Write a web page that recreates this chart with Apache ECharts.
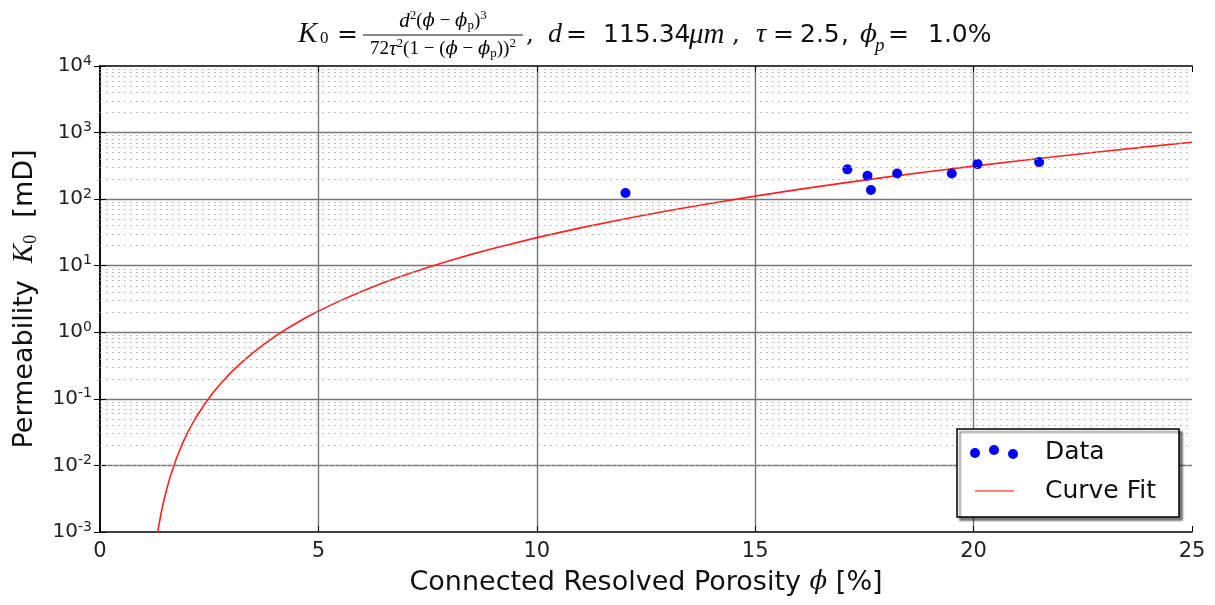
<!DOCTYPE html>
<html>
<head>
<meta charset="utf-8">
<script src="https://cdn.jsdelivr.net/npm/echarts@6/dist/echarts.min.js"></script>
<style>
html, body { margin: 0; padding: 0; background: #fff; }
#chart { width: 1215px; height: 605px; }
</style>
</head>
<body>
<div id="chart"></div>
<script>
// measured points
var porosity = [12.03, 17.11, 17.57, 17.65, 18.25, 19.50, 20.09, 21.50];
var permeability = [124, 280, 224, 137, 243, 243, 336, 360];

// fitted curve
var fitPorosity = [1.3, 1.35, 1.4, 1.45, 1.5, 1.6, 1.75, 1.9, 2, 2.1, 2.2, 2.4, 2.6, 2.75, 3,
    3.25, 3.5, 3.75, 4, 4.25, 4.5, 4.75, 5, 5.5, 6, 6.5, 7, 7.5, 8, 8.5, 9, 10,
    11, 12, 13, 14, 15, 16, 17, 18, 19, 20, 21, 22, 23, 24, 25];
var fitPermeability = [0.000814, 0.00129, 0.00193, 0.00275, 0.00378, 0.00655, 0.0128, 0.0222,
    0.0306, 0.0408, 0.0530, 0.0846, 0.127, 0.166, 0.250, 0.357, 0.492, 0.659, 0.860, 1.10,
    1.38, 1.71, 2.08, 2.99, 4.15, 5.58, 7.32, 9.41, 11.9, 14.8, 18.1, 26.4,
    37.0, 50.3, 66.8, 86.9, 111, 140, 174, 214, 260, 313, 374, 445, 524, 615, 717];

// decades of the log axis (minor lines at 2..9 x 10^k)
var decades = [-3, -2, -1, 0, 1, 2, 3];
var minorSteps = [2, 3, 4, 5, 6, 7, 8, 9];

var sans = '"DejaVu Sans", sans-serif';
var serif = '"Liberation Serif", "DejaVu Serif", serif';
var dserif = '"DejaVu Serif", serif';

var toPairs = function (xs, ys) {
    var out = [];
    for (var i = 0; i < xs.length; i++) {
        out.push([xs[i], ys[i]]);
    }
    return out;
};

var minorLines = [];
for (var d = 0; d < decades.length; d++) {
    for (var m = 0; m < minorSteps.length; m++) {
        minorLines.push({ yAxis: minorSteps[m] * Math.pow(10, decades[d]) });
    }
}

var mathRich = function (size) {
    var small = Math.round(size * 0.68);
    return {
        n: { fontFamily: sans, fontSize: size, color: '#111', lineHeight: size + 4 },
        r: { fontFamily: serif, fontSize: size, color: '#111', lineHeight: size + 4 },
        i: { fontFamily: serif, fontStyle: 'italic', fontSize: size + 2, color: '#111', lineHeight: size + 4 },
        f: { fontFamily: dserif, fontStyle: 'italic', fontSize: size - 1, color: '#111', lineHeight: size + 4 },
        sp: { fontFamily: serif, fontSize: small, color: '#111', lineHeight: small, verticalAlign: 'top' },
        sb: { fontFamily: serif, fontSize: small, color: '#111', lineHeight: small, verticalAlign: 'bottom' }
    };
};

// title pieces: text, left x, style
var titleParts = [
    [',', 526, 'e'], ['d', 548, 'i'], ['=', 566, 'e'], ['115.34', 603, 'n'], ['μm', 689, 'm'],
    [',', 732, 'e'], ['τ', 756, 'i'], ['=', 773, 'e'], ['2.5', 800, 'n'], [',', 841, 'n'],
    ['ϕ', 860, 'f'], ['=', 888, 'e'], ['1.0%', 928, 'n']
];
var titleFonts = {
    e: { fontFamily: dserif, fontSize: 25 },
    i: { fontFamily: serif, fontStyle: 'italic', fontSize: 28 },
    m: { fontFamily: serif, fontStyle: 'italic', fontSize: 29 },
    n: { fontFamily: sans, fontSize: 25 },
    f: { fontFamily: dserif, fontStyle: 'italic', fontSize: 25 }
};

var graphics = [
    { type: 'text', x: 298, y: 34, style: { text: 'K', fontFamily: serif, fontStyle: 'italic',
        fontSize: 29, fill: '#111', verticalAlign: 'middle' } },
    { type: 'text', x: 320, y: 39, style: { text: '0', fontFamily: serif,
        fontSize: 17, fill: '#111', verticalAlign: 'middle' } },
    { type: 'text', x: 337, y: 35, style: { text: '=', fontFamily: dserif,
        fontSize: 25, fill: '#111', verticalAlign: 'middle' } },
    { type: 'text', x: 443, y: 21, style: {
        text: '{i|d}{sp|2}{r|(}{f|ϕ}{r| − }{f|ϕ}{sb|p}{r|)}{sp|3}',
        rich: mathRich(19), align: 'center', verticalAlign: 'middle' } },
    { type: 'line', shape: { x1: 363, y1: 35, x2: 523, y2: 35 },
      style: { stroke: '#111', lineWidth: 1 } },
    { type: 'text', x: 443, y: 49, style: {
        text: '{r|72}{i|τ}{sp|2}{r|(1 − (}{f|ϕ}{r| − }{f|ϕ}{sb|p}{r|))}{sp|2}',
        rich: mathRich(19), align: 'center', verticalAlign: 'middle' } },
    { type: 'text', x: 875, y: 46, style: { text: 'p', fontFamily: serif, fontStyle: 'italic',
        fontSize: 19, fill: '#111', verticalAlign: 'middle' } },

    // legend box
    { type: 'rect', shape: { x: 957, y: 429, width: 222, height: 88 }, z: 10,
      style: { fill: '#fff', stroke: '#000', lineWidth: 1.5,
               shadowColor: 'rgba(0,0,0,0.5)', shadowOffsetX: 3, shadowOffsetY: 3, shadowBlur: 2 } },
    { type: 'circle', shape: { cx: 975, cy: 453, r: 5 }, z: 11, style: { fill: '#0000ff' } },
    { type: 'circle', shape: { cx: 994, cy: 450, r: 5 }, z: 11, style: { fill: '#0000ff' } },
    { type: 'circle', shape: { cx: 1013, cy: 454, r: 5 }, z: 11, style: { fill: '#0000ff' } },
    { type: 'line', shape: { x1: 975, y1: 491, x2: 1014, y2: 491 }, z: 11,
      style: { stroke: '#ff5a5a', lineWidth: 1.6 } },
    { type: 'text', x: 1045, y: 452, z: 11, style: { text: 'Data', fontFamily: sans,
        fontSize: 25, fill: '#111', verticalAlign: 'middle' } },
    { type: 'text', x: 1045, y: 491, z: 11, style: { text: 'Curve Fit', fontFamily: sans,
        fontSize: 25, fill: '#111', verticalAlign: 'middle' } }
];

for (var t = 0; t < titleParts.length; t++) {
    var f = titleFonts[titleParts[t][2]];
    graphics.push({ type: 'text', x: titleParts[t][1], y: 35, style: {
        text: titleParts[t][0], fontFamily: f.fontFamily, fontStyle: f.fontStyle || 'normal',
        fontSize: f.fontSize, fill: '#111', verticalAlign: 'middle' } });
}

var chart = echarts.init(document.getElementById('chart'));

var option = {
    animation: false,
    backgroundColor: '#fff',
    grid: { left: 100, right: 23, top: 66, bottom: 73, containLabel: false },
    xAxis: [{
        type: 'value',
        min: 0,
        max: 25,
        interval: 5,
        axisLine: { show: true, onZero: false, lineStyle: { color: '#000', width: 1.5 } },
        axisTick: { show: true, inside: true, length: 6, lineStyle: { color: '#000' } },
        axisLabel: { fontFamily: sans, fontSize: 21, color: '#222', margin: 9 },
        splitLine: { show: true, showMinLine: false, showMaxLine: false,
                     lineStyle: { color: '#777', width: 1.4 } },
        name: '{n|Connected Resolved Porosity }{f|ϕ}{n| [%]}',
        nameLocation: 'middle',
        nameGap: 35,
        nameTextStyle: { rich: mathRich(27) }
    }, {
        type: 'value',
        position: 'top',
        min: 0,
        max: 25,
        interval: 5,
        axisLine: { show: true, lineStyle: { color: '#000', width: 1.5 } },
        axisTick: { show: true, inside: true, length: 6, lineStyle: { color: '#000' } },
        axisLabel: { show: false },
        splitLine: { show: false }
    }],
    yAxis: [{
        type: 'log',
        logBase: 10,
        min: 0.001,
        max: 10000,
        interval: 1,
        splitNumber: 7,
        axisLine: { show: true, lineStyle: { color: '#000', width: 1.5 } },
        axisTick: { show: true, inside: true, length: 6, lineStyle: { color: '#000' } },
        axisLabel: {
            margin: 8,
            formatter: function (v) {
                var e = Math.round(Math.log(v) / Math.LN10);
                return '{b|10}{s|' + e + '}';
            },
            rich: {
                b: { fontFamily: sans, fontSize: 20, color: '#222', lineHeight: 24 },
                s: { fontFamily: sans, fontSize: 14, color: '#222', lineHeight: 14, verticalAlign: 'top' }
            }
        },
        splitLine: { show: true, showMinLine: false, showMaxLine: false,
                     lineStyle: { color: '#777', width: 1.4 } },
        name: '{n|Permeability  }{i|K}{sb|0}{n|  [mD]}',
        nameLocation: 'middle',
        nameGap: 60,
        nameTextStyle: { rich: mathRich(27) }
    }, {
        type: 'log',
        logBase: 10,
        position: 'right',
        min: 0.001,
        max: 10000,
        interval: 1,
        splitNumber: 7,
        axisLine: { show: true, lineStyle: { color: '#000', width: 1.5 } },
        axisTick: { show: true, inside: true, length: 6, lineStyle: { color: '#000' } },
        axisLabel: { show: false },
        splitLine: { show: false }
    }],
    graphic: graphics,
    series: [{
        name: 'minor grid',
        type: 'line',
        data: [],
        silent: true,
        z: 1,
        markLine: {
            silent: true,
            symbol: 'none',
            label: { show: false },
            lineStyle: { color: '#a8a8a8', width: 1, type: [1.5, 4.5] },
            emphasis: { disabled: true },
            data: minorLines
        }
    }, {
        name: 'Curve Fit',
        type: 'line',
        data: toPairs(fitPorosity, fitPermeability),
        showSymbol: false,
        symbol: 'none',
        smooth: false,
        clip: true,
        z: 3,
        lineStyle: { color: '#ff2020', width: 1.6 }
    }, {
        name: 'Data',
        type: 'scatter',
        data: toPairs(porosity, permeability),
        symbol: 'circle',
        symbolSize: 10,
        z: 4,
        itemStyle: { color: '#0000ff', opacity: 1 }
    }]
};

chart.setOption(option);
</script>
</body>
</html>
